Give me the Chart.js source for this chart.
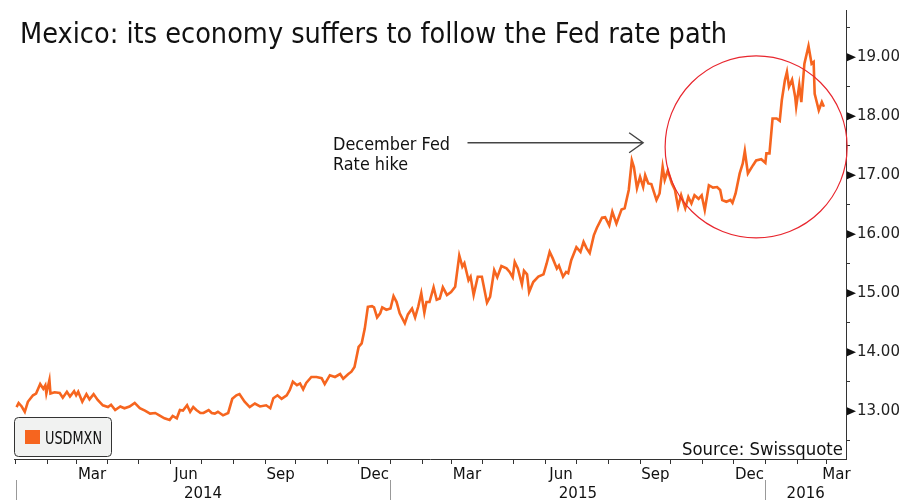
<!DOCTYPE html>
<html>
<head>
<meta charset="utf-8">
<script src="https://cdn.jsdelivr.net/npm/chart.js@4.4.1/dist/chart.umd.min.js"></script>
<style>
  html, body { margin: 0; padding: 0; background: #fff; }
  #wrap { width: 901px; height: 500px; }
</style>
</head>
<body>
<div id="wrap"><canvas id="chart" width="901" height="500"></canvas></div>
<script>
// x = days counted from 1 Jan 2014, y = USDMXN close
const dayIndex = [
  1, 3, 6, 9, 12, 17, 20, 24, 27, 29,
  30, 33, 34, 38, 43, 46, 50, 53, 57, 59,
  61, 65, 69, 72, 76, 80, 85, 90, 93, 97,
  102, 106, 111, 116, 121, 126, 131, 136, 140, 145,
  150, 153, 157, 160, 163, 167, 170, 173, 176, 180,
  183, 188, 191, 194, 197, 202, 207, 211, 215, 218,
  223, 228, 233, 238, 244, 248, 251, 255, 259, 264,
  267, 270, 274, 277, 280, 283, 288, 293, 298, 301,
  306, 311, 316, 319, 324, 327, 330, 334, 337, 340,
  343, 347, 349, 352, 355, 357, 361, 365, 368, 371,
  374, 379, 382, 386, 389, 392, 395, 398, 400, 403,
  407, 410, 413, 416, 420, 424, 428, 432, 435, 437,
  441, 443, 446, 450, 454, 459, 462, 466, 469, 473,
  478, 481, 484, 486, 489, 493, 495, 498, 500, 504,
  509, 514, 517, 520, 523, 527, 529, 533, 536, 538,
  541, 546, 550, 553, 556, 559, 563, 566, 571, 574,
  578, 581, 585, 590, 593, 597, 600, 602, 605, 608,
  611, 613, 616, 619, 624, 627, 630, 632, 635, 639,
  642, 645, 648, 652, 655, 658, 661, 665, 668, 671,
  675, 679, 683, 686, 688, 692, 696, 698, 701, 705,
  708, 710, 713, 718, 721, 726, 730, 731, 734, 737,
  741, 744, 746, 749, 751, 753, 756, 759, 760, 763,
  765, 768, 772, 775, 777, 778, 780, 782, 785, 787
];
const usdmxn = [
  13.07, 13.14, 13.08, 12.99, 13.16, 13.27, 13.30, 13.46, 13.38, 13.44,
  13.30, 13.53, 13.30, 13.32, 13.31, 13.23, 13.33, 13.25, 13.34, 13.27,
  13.33, 13.16, 13.29, 13.20, 13.29, 13.19, 13.10, 13.07, 13.11, 13.02,
  13.08, 13.05, 13.08, 13.14, 13.05, 13.01, 12.96, 12.97, 12.93, 12.88,
  12.85, 12.92, 12.88, 13.02, 13.01, 13.10, 12.99, 13.07, 13.02, 12.97,
  12.97, 13.02, 12.97, 12.96, 12.99, 12.93, 12.97, 13.21, 13.27, 13.29,
  13.16, 13.07, 13.13, 13.08, 13.10, 13.05, 13.22, 13.27, 13.21, 13.27,
  13.36, 13.50, 13.44, 13.47, 13.37, 13.48, 13.58, 13.58, 13.56, 13.46,
  13.61, 13.58, 13.63, 13.55, 13.63, 13.67, 13.75, 14.09, 14.15, 14.40,
  14.77, 14.78, 14.76, 14.59, 14.66, 14.76, 14.72, 14.74, 14.95, 14.85,
  14.66, 14.49, 14.64, 14.74, 14.59, 14.77, 15.00, 14.67, 14.85, 14.85,
  15.10, 14.89, 14.91, 15.10, 14.97, 15.02, 15.11, 15.64, 15.45, 15.51,
  15.22, 15.28, 14.97, 15.28, 15.28, 14.84, 14.94, 15.39, 15.27, 15.46,
  15.42, 15.36, 15.27, 15.53, 15.42, 15.15, 15.38, 15.32, 15.02, 15.19,
  15.28, 15.32, 15.50, 15.70, 15.59, 15.42, 15.47, 15.28, 15.36, 15.34,
  15.56, 15.78, 15.70, 15.87, 15.76, 15.68, 15.98, 16.11, 16.28, 16.29,
  16.15, 16.38, 16.18, 16.42, 16.44, 16.75, 17.25, 17.14, 16.78, 16.97,
  16.80, 17.00, 16.86, 16.85, 16.58, 16.69, 17.14, 16.92, 17.08, 16.86,
  16.75, 16.46, 16.66, 16.44, 16.63, 16.52, 16.66, 16.60, 16.66, 16.41,
  16.83, 16.79, 16.80, 16.75, 16.58, 16.55, 16.58, 16.53, 16.69, 17.03,
  17.20, 17.41, 17.03, 17.17, 17.25, 17.27, 17.21, 17.37, 17.37, 17.96,
  17.96, 17.92, 18.27, 18.61, 18.75, 18.50, 18.62, 18.33, 18.16, 18.53,
  18.24, 18.89, 19.19, 18.89, 18.92, 18.38, 18.24, 18.10, 18.24, 18.16
];
const monthTicks = ['2014-03', '2014-06', '2014-09', '2014-12', '2015-03', '2015-06', '2015-09', '2015-12', '2016-03'];
const monthLabels = ['Mar', 'Jun', 'Sep', 'Dec', 'Mar', 'Jun', 'Sep', 'Dec', 'Mar'];
const yearLabels = ['2014', '2015', '2016'];
const yTicks = [12.5, 13, 13.5, 14, 14.5, 15, 15.5, 16, 16.5, 17, 17.5, 18, 18.5, 19, 19.5];

const FONT = '"DejaVu Sans", sans-serif';
const INK = '#111';
const ORANGE = '#f6651f';
const X_MIN = -1.5, X_MAX = 808.5;

function dayOf(y, m) { return (Date.UTC(y, m, 1) - Date.UTC(2014, 0, 1)) / 864e5; }
function visibleMid(a, b) { return (Math.max(a, X_MIN) + Math.min(b, X_MAX)) / 2; }

const monthStarts = [];
for (let i = 0; i < 27; i++) monthStarts.push(dayOf(2014, i));
const monthMids = monthTicks.map(s => {
  const [y, m] = s.split('-').map(Number);
  return visibleMid(dayOf(y, m - 1), dayOf(y, m));
});
const yearMids = yearLabels.map(y => visibleMid(dayOf(+y, 0), dayOf(+y + 1, 0)));

// draws text at a given size, squeezed horizontally to the wanted width
function squeezed(ctx, text, x, y, size, width, align) {
  ctx.font = size + 'px ' + FONT;
  const w = ctx.measureText(text).width;
  const sx = Math.min(1, width / w);
  ctx.save();
  ctx.translate(x, y);
  ctx.scale(sx, 1);
  ctx.textAlign = 'left';
  ctx.fillText(text, align === 'right' ? -w : 0, 0);
  ctx.restore();
}

const decor = {
  id: 'decor',
  afterDraw(chart) {
    const ctx = chart.ctx;
    const xs = chart.scales.x, ys = chart.scales.y;
    ctx.save();
    ctx.textBaseline = 'alphabetic';
    ctx.fillStyle = INK;

    squeezed(ctx, 'Mexico: its economy suffers to follow the Fed rate path', 20, 43, 28, 707);

    // annotation
    squeezed(ctx, 'December Fed', 333, 150, 18, 117);
    squeezed(ctx, 'Rate hike', 333, 170, 18, 75);

    const ax0 = xs.getPixelForValue(440), ax1 = xs.getPixelForValue(611), ay = ys.getPixelForValue(17.55);
    ctx.strokeStyle = '#444';
    ctx.lineWidth = 1.4;
    ctx.beginPath();
    ctx.moveTo(ax0, ay); ctx.lineTo(ax1, ay);
    ctx.moveTo(ax1 - 14, ay - 10); ctx.lineTo(ax1, ay); ctx.lineTo(ax1 - 14, ay + 10);
    ctx.stroke();

    // circle
    ctx.strokeStyle = '#e8262e';
    ctx.lineWidth = 1.2;
    ctx.beginPath();
    ctx.arc(xs.getPixelForValue(721), ys.getPixelForValue(17.48), 91, 0, Math.PI * 2);
    ctx.stroke();

    // legend box
    ctx.fillStyle = '#f1f2f1';
    ctx.strokeStyle = '#333';
    ctx.lineWidth = 1;
    ctx.beginPath();
    ctx.roundRect(14.5, 417.5, 97, 39, 4);
    ctx.fill(); ctx.stroke();
    ctx.fillStyle = ORANGE;
    ctx.fillRect(25, 430, 15, 14);
    ctx.fillStyle = INK;
    squeezed(ctx, 'USDMXN', 45, 444, 17, 57);

    // source
    squeezed(ctx, 'Source: Swissquote', 843, 455, 17, 161, 'right');

    // year separators
    ctx.strokeStyle = '#999';
    ctx.lineWidth = 1;
    yearLabels.forEach(y => {
      const px = Math.round(xs.getPixelForValue(dayOf(+y, 0))) + 0.5;
      ctx.beginPath();
      ctx.moveTo(px, 480); ctx.lineTo(px, 500);
      ctx.stroke();
    });

    // major tick arrows on the value axis
    ctx.fillStyle = INK;
    yTicks.filter(v => Number.isInteger(v)).forEach(v => {
      const py = ys.getPixelForValue(v);
      ctx.beginPath();
      ctx.moveTo(ys.left + 1, py - 4);
      ctx.lineTo(ys.left + 10, py);
      ctx.lineTo(ys.left + 1, py + 4);
      ctx.closePath();
      ctx.fill();
    });
    ctx.restore();
  }
};

new Chart(document.getElementById('chart'), {
  type: 'line',
  data: {
    datasets: [{
      label: 'USDMXN',
      data: dayIndex.map((d, i) => ({ x: d, y: usdmxn[i] })),
      borderColor: ORANGE,
      borderWidth: 2.6,
      pointRadius: 0,
      tension: 0,
      fill: false
    }]
  },
  options: {
    responsive: false,
    animation: false,
    devicePixelRatio: 1,
    layout: { padding: { left: 14, top: 10, right: 0, bottom: 0 } },
    plugins: { legend: { display: false }, tooltip: { enabled: false } },
    scales: {
      x: {
        type: 'linear', position: 'bottom', weight: 0, min: X_MIN, max: X_MAX,
        afterBuildTicks: s => { s.ticks = monthStarts.map(v => ({ value: v })); },
        ticks: { display: false },
        grid: { drawOnChartArea: false, drawTicks: true, tickLength: 5, tickColor: '#333' },
        border: { color: '#333' },
        afterFit: s => { s.height = 6; s.paddingLeft = 0; s.paddingRight = 0; }
      },
      x2: {
        type: 'linear', position: 'bottom', weight: 1, min: X_MIN, max: X_MAX,
        afterBuildTicks: s => { s.ticks = monthMids.map(v => ({ value: v })); },
        ticks: {
          autoSkip: false, maxRotation: 0, padding: 1, color: INK,
          font: { family: FONT, size: 15 },
          callback: (v, i) => monthLabels[i]
        },
        grid: { display: false, drawTicks: false },
        border: { display: false },
        afterFit: s => { s.height = 18; s.paddingLeft = 0; s.paddingRight = 0; }
      },
      x3: {
        type: 'linear', position: 'bottom', weight: 2, min: X_MIN, max: X_MAX,
        afterBuildTicks: s => { s.ticks = yearMids.map(v => ({ value: v })); },
        ticks: {
          autoSkip: false, maxRotation: 0, padding: 2, color: INK,
          font: { family: FONT, size: 15 },
          callback: (v, i) => yearLabels[i]
        },
        grid: { display: false, drawTicks: false },
        border: { display: false },
        afterFit: s => { s.height = 17; s.paddingLeft = 0; s.paddingRight = 0; }
      },
      y: {
        position: 'right', min: 12.19, max: 19.80,
        afterBuildTicks: s => { s.ticks = yTicks.map(v => ({ value: v })); },
        ticks: {
          autoSkip: false, padding: 7, color: '#222',
          font: { family: FONT, size: 15 },
          callback: v => Number.isInteger(v) ? v.toFixed(2) : ''
        },
        grid: {
          drawOnChartArea: false, tickLength: 4,
          tickColor: c => Number.isInteger(c.tick.value) ? 'rgba(0,0,0,0)' : '#333'
        },
        border: { color: '#333' },
        afterFit: s => { s.width = 55; s.paddingTop = 0; s.paddingBottom = 0; }
      }
    }
  },
  plugins: [decor]
});
</script>
</body>
</html>
